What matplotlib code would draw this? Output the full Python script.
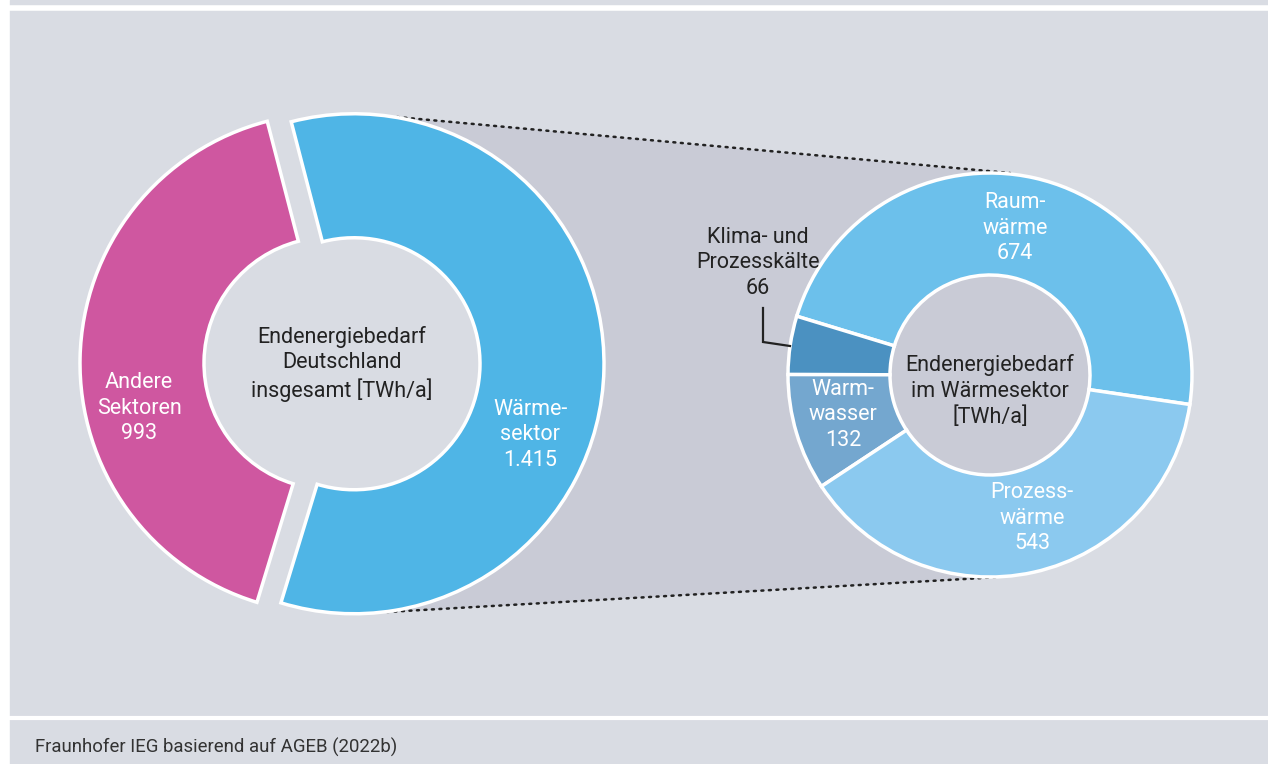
import numpy as np
import matplotlib
matplotlib.use("Agg")
import matplotlib.pyplot as plt
from matplotlib.patches import Polygon, Rectangle

plt.rcParams["font.family"] = ["Roboto", "DejaVu Sans"]

# Daten (TWh/a)
gesamt_labels = ["Wärme-\nsektor\n1.415", "Andere\nSektoren\n993"]
gesamt_werte = [1415, 993]

waerme_labels = ["Raum-\nwärme\n674", "Klima- und\nProzesskälte\n66",
                 "Warm-\nwasser\n132", "Prozess-\nwärme\n543"]
waerme_werte = [674, 66, 132, 543]

W, H = 1268, 764
BG = "#d9dce3"
FILL = "#c9cbd6"
DARK = "#222222"


def Y(y):
    # Pixelkoordinate (von oben) -> Achsenkoordinate (von unten)
    return H - y


fig = plt.figure(figsize=(W / 100, H / 100), dpi=100, facecolor="white")
ax = fig.add_axes([0, 0, 1, 1])
ax.set_xlim(0, W)
ax.set_ylim(0, H)
ax.set_aspect("equal")
ax.axis("off")

# Hintergrund
ax.add_patch(Rectangle((10, 0), W - 10, H, color=BG, zorder=0))
ax.plot([10, W], [Y(8), Y(8)], color="white", lw=4, zorder=1)
ax.plot([10, W], [Y(718), Y(718)], color="white", lw=3, zorder=1)

# Zentren / Radien
c1 = (342, Y(363.5))
r1, w1 = 250, 124
gap = 12
c2 = (990, Y(375))
r2, w2 = 202, 102

# Verbindungsfläche zwischen den beiden Ringen
blue_c = (354, Y(363.5))
p_tl = (397, Y(117))
p_tr = (1010, Y(173))
p_br = (1000, Y(577))
p_bl = (387, Y(612))
a_r0 = np.arctan2(p_tr[1] - c2[1], p_tr[0] - c2[0])
a_r1 = np.arctan2(p_br[1] - c2[1], p_br[0] - c2[0])
arc_r = np.linspace(a_r0, a_r1, 80)
a_l0 = np.arctan2(p_bl[1] - blue_c[1], p_bl[0] - blue_c[0])
a_l1 = np.arctan2(p_tl[1] - blue_c[1], p_tl[0] - blue_c[0])
arc_l = np.linspace(a_l0, a_l1, 80)
pts = [p_tl]
pts += list(zip(c2[0] + r2 * np.cos(arc_r), c2[1] + r2 * np.sin(arc_r)))
pts += [p_bl]
pts += list(zip(blue_c[0] + r1 * np.cos(arc_l), blue_c[1] + r1 * np.sin(arc_l)))
ax.add_patch(Polygon(pts, closed=True, color=FILL, lw=0, zorder=1))

ax.plot([p_tl[0], p_tr[0]], [p_tl[1], p_tr[1]], color=DARK, lw=1.8,
        ls=(0, (0.8, 2.2)), dash_capstyle="round", zorder=2)
ax.plot([p_bl[0], p_br[0]], [p_bl[1], p_br[1]], color=DARK, lw=1.8,
        ls=(0, (0.8, 2.2)), dash_capstyle="round", zorder=2)

# Linker Ring: Endenergiebedarf gesamt
wedges1, _ = ax.pie(gesamt_werte, colors=["#4fb5e6", "#cf57a0"],
                    center=c1, radius=r1, startangle=-107, counterclock=True,
                    explode=[gap, gap], frame=True,
                    wedgeprops=dict(width=w1, edgecolor="white", linewidth=2.5))
for wd in wedges1:
    wd.set_zorder(3)

# Rechter Ring: Wärmesektor
wedges2, _ = ax.pie(waerme_werte,
                    colors=["#6cc0eb", "#4b91c1", "#74a7cf", "#8bc9ef"],
                    center=c2, radius=r2, startangle=-8.4, counterclock=True,
                    frame=True,
                    wedgeprops=dict(width=w2, edgecolor="white", linewidth=2.5))
for wd in wedges2:
    wd.set_zorder(3)

ax.set_xlim(0, W)
ax.set_ylim(0, H)
ax.axis("off")

fs = 15.5
ls = 1.26
txt = dict(ha="center", va="center", fontsize=fs, linespacing=ls, zorder=5)

ax.text(530, Y(435), gesamt_labels[0], color="white", **txt)
ax.text(139, Y(408), gesamt_labels[1], color="white", **txt)
ax.text(342, Y(364), "Endenergiebedarf\nDeutschland\ninsgesamt [TWh/a]",
        color=DARK, **txt)

ax.text(1015, Y(228), waerme_labels[0], color="white", **txt)
ax.text(758, Y(263), waerme_labels[1], color=DARK, **txt)
ax.text(843, Y(415), waerme_labels[2], color="white", **txt)
ax.text(1032, Y(518), waerme_labels[3], color="white", **txt)
ax.text(990, Y(391), "Endenergiebedarf\nim Wärmesektor\n[TWh/a]",
        color=DARK, **txt)

# Hinweislinie Klima
ax.plot([763, 763, 790], [Y(308), Y(342), Y(346)], color=DARK, lw=1.6,
        solid_joinstyle="miter", zorder=5)

ax.text(35, Y(747), "Fraunhofer IEG basierend auf AGEB (2022b)",
        color="#333333", fontsize=13.4, ha="left", va="center", zorder=5)

fig.savefig("out.png", dpi=100, facecolor="white")
